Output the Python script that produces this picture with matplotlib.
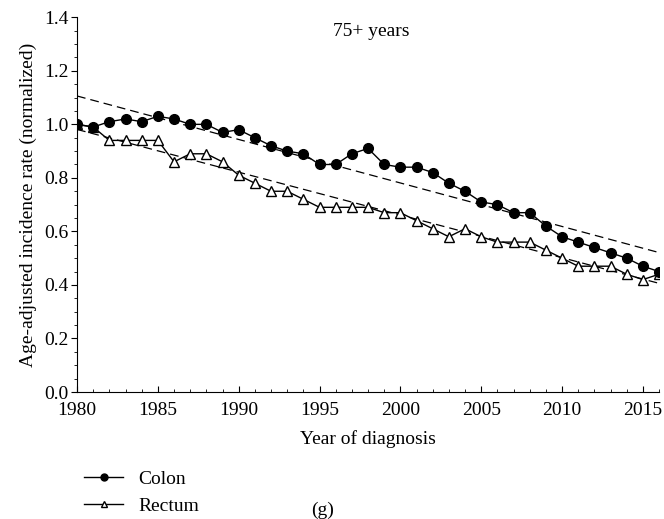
import matplotlib
matplotlib.use('Agg')
import matplotlib.pyplot as plt
from matplotlib.ticker import MultipleLocator
from matplotlib.lines import Line2D

plt.rcParams['font.family'] = ['Liberation Serif', 'DejaVu Serif']

years = list(range(1980, 2017))
colon = [1.00, 0.99, 1.01, 1.02, 1.01, 1.03, 1.02, 1.00, 1.00, 0.97,
         0.98, 0.95, 0.92, 0.90, 0.89, 0.85, 0.85, 0.89, 0.91, 0.85,
         0.84, 0.84, 0.82, 0.78, 0.75, 0.71, 0.70, 0.67, 0.67, 0.62,
         0.58, 0.56, 0.54, 0.52, 0.50, 0.47, 0.45]
rectum = [1.00, 0.99, 0.94, 0.94, 0.94, 0.94, 0.86, 0.89, 0.89, 0.86,
          0.81, 0.78, 0.75, 0.75, 0.72, 0.69, 0.69, 0.69, 0.69, 0.67,
          0.67, 0.64, 0.61, 0.58, 0.61, 0.58, 0.56, 0.56, 0.56, 0.53,
          0.50, 0.47, 0.47, 0.47, 0.44, 0.42, 0.44]
# dashed trend lines, end points
trend_x = [1980, 2016]
colon_trend = [1.106, 0.521]
rectum_trend = [0.981, 0.406]

fig = plt.figure(figsize=(6.64, 5.19), dpi=100)
ax = fig.add_axes([0.116, 0.2447, 0.8765, 0.722])

ax.plot(trend_x, colon_trend, color='black', lw=0.9, dashes=(7, 4))
ax.plot(trend_x, rectum_trend, color='black', lw=0.9, dashes=(7, 4))
ax.plot(years, rectum, color='black', lw=1, marker='^', markersize=7,
        markerfacecolor='white', markeredgecolor='black', markeredgewidth=1)
ax.plot(years, colon, color='black', lw=1, marker='o', markersize=7,
        markerfacecolor='black', markeredgecolor='black')

ax.set_xlim(1980, 2016)
ax.set_ylim(0, 1.4)
ax.xaxis.set_major_locator(MultipleLocator(5))
ax.xaxis.set_minor_locator(MultipleLocator(1))
ax.yaxis.set_major_locator(MultipleLocator(0.2))
ax.yaxis.set_minor_locator(MultipleLocator(0.05))
ax.yaxis.set_major_formatter(plt.FuncFormatter(lambda v, p: '%.1f' % v))
ax.spines['top'].set_visible(False)
ax.spines['right'].set_visible(False)
ax.tick_params(axis='x', which='major', direction='in', length=4, labelsize=14, pad=7)
ax.tick_params(axis='x', which='minor', direction='in', length=2.5)
ax.tick_params(axis='y', which='major', direction='out', length=4, labelsize=14, pad=2)
ax.tick_params(axis='y', which='minor', direction='out', length=2.5)

ax.set_xlabel('Year of diagnosis', fontsize=14, labelpad=8)
ax.set_ylabel('Age-adjusted incidence rate (normalized)', fontsize=14, labelpad=5)
ax.text(0.505, 0.985, '75+ years', transform=ax.transAxes, ha='center', va='top', fontsize=14)

handles = [Line2D([], [], color='black', lw=1, marker='o', markersize=5,
                  markerfacecolor='black'),
           Line2D([], [], color='black', lw=1, marker='^', markersize=5,
                  markerfacecolor='white', markeredgecolor='black')]
fig.legend(handles, ['Colon', 'Rectum'], loc='upper left', bbox_to_anchor=(0.112, 0.112),
           frameon=False, fontsize=14, handlelength=2.0, handletextpad=0.8,
           labelspacing=0.45, borderpad=0)
fig.text(323 / 664, 1 - 510 / 519, '(g)', ha='center', va='center', fontsize=14)

fig.savefig('out.png', dpi=100)
